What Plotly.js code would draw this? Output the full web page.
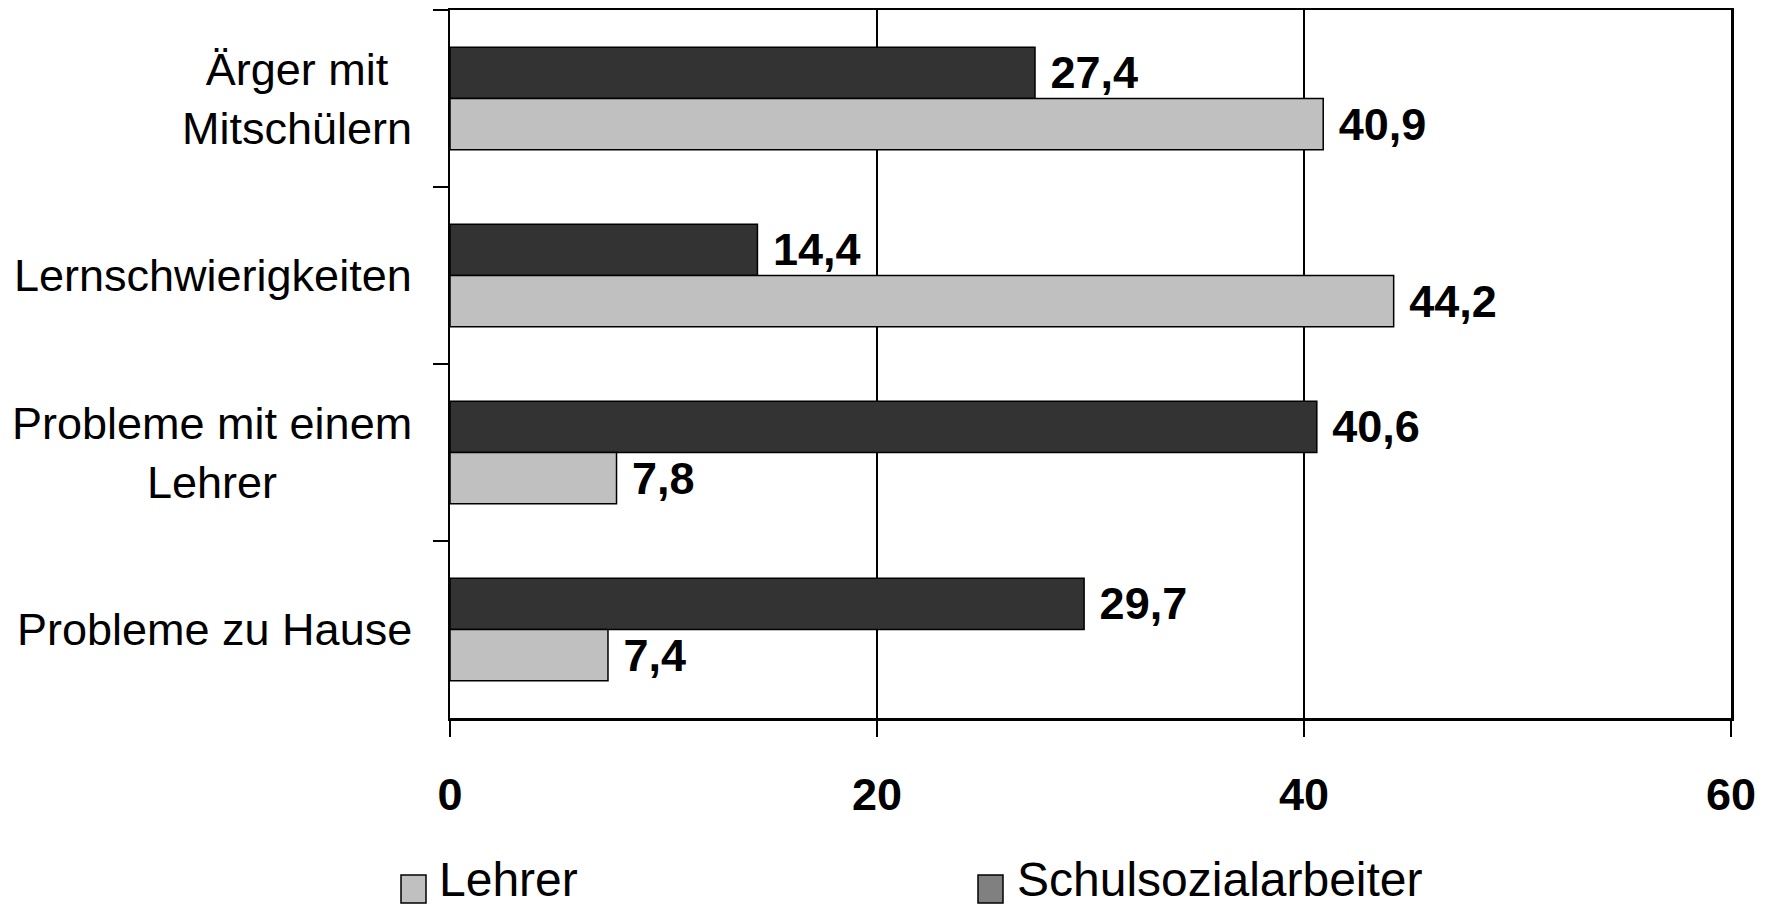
<!DOCTYPE html>
<html>
<head>
<meta charset="utf-8">
<script src="https://cdn.plot.ly/plotly-3.0.1.min.js"></script>
<style>
html, body { margin: 0; padding: 0; background: #ffffff; }
#chart { width: 1773px; height: 908px; }
</style>
</head>
<body>
<div id="chart"></div>
<script>
// ---- data ----
const categories = ['Ärger mit<br>Mitschülern', 'Lernschwierigkeiten', 'Probleme mit einem<br>Lehrer', 'Probleme zu Hause'];
const schulsozialarbeiter = [27.4, 14.4, 40.6, 29.7];
const lehrer = [40.9, 44.2, 7.8, 7.4];
const xTickValues = [0, 20, 40, 60];
const legendNames = ['Lehrer', 'Schulsozialarbeiter'];

// ---- styling ----
const W = 1773, H = 908;
const M = { l: 450, r: 42, t: 10, b: 190 };
const plotW = W - M.l - M.r, plotH = H - M.t - M.b;
const px2x = p => (p - M.l) / plotW;
const px2y = p => (H - M.b - p) / plotH;
const FONT = 'Arial, "Liberation Sans", sans-serif';

const darkColor = '#333333', lightColor = '#C0C0C0', legendDark = '#808080';

const labelFont = { family: FONT, size: 45, color: '#000', weight: 'bold' };

const traces = [
  {
    type: 'bar', orientation: 'h', name: legendNames[1],
    y: categories, x: schulsozialarbeiter,
    marker: { color: darkColor, line: { color: '#000', width: 1.5 } },
    texttemplate: '\u00a0%{x:.1f}', textposition: 'outside',
    textfont: labelFont, constraintext: 'none', cliponaxis: false,
    showlegend: false, hoverinfo: 'skip'
  },
  {
    type: 'bar', orientation: 'h', name: legendNames[0],
    y: categories, x: lehrer,
    marker: { color: lightColor, line: { color: '#000', width: 1.5 } },
    texttemplate: '\u00a0%{x:.1f}', textposition: 'outside',
    textfont: labelFont, constraintext: 'none', cliponaxis: false,
    showlegend: false, hoverinfo: 'skip'
  }
];

const annotations = categories.map(c => ({
  xref: 'paper', yref: 'y', x: px2x(414), y: c, text: c,
  xanchor: 'right', yanchor: 'middle', align: 'center', showarrow: false,
  font: { family: FONT, size: 45, color: '#000' }
}));

// legend (custom, larger swatches as in the reference)
const legendItems = [
  { name: legendNames[0], color: lightColor, sx: 401, tx: 438 },
  { name: legendNames[1], color: legendDark, sx: 978, tx: 1016 }
];
const shapes = [];
legendItems.forEach(it => {
  shapes.push({
    type: 'rect', xref: 'paper', yref: 'paper',
    x0: px2x(it.sx), x1: px2x(it.sx + 25), y0: px2y(903), y1: px2y(875),
    fillcolor: it.color, line: { color: '#000', width: 1.5 }
  });
  annotations.push({
    xref: 'paper', yref: 'paper', x: px2x(it.tx), y: px2y(907),
    text: it.name, xanchor: 'left', yanchor: 'bottom', showarrow: false,
    borderpad: 0,
    font: { family: FONT, size: 48, color: '#000' }
  });
});

const layout = {
  width: W, height: H,
  margin: { l: M.l, r: M.r, t: M.t, b: M.b, pad: 0 },
  paper_bgcolor: '#ffffff', plot_bgcolor: '#ffffff',
  barmode: 'group', bargap: 0.42, bargroupgap: 0,
  separators: ', ',
  showlegend: false,
  font: { family: FONT, color: '#000' },
  xaxis: {
    range: [0, 60], tickvals: xTickValues, ticktext: xTickValues.map(String),
    showgrid: true, gridcolor: '#000', gridwidth: 1.2, zeroline: false,
    showline: true, linecolor: '#000', linewidth: 2.5, mirror: true,
    ticks: 'outside', ticklen: 16, tickwidth: 1.2, tickcolor: '#000',
    ticklabelstandoff: 19,
    tickfont: { family: FONT, size: 45, color: '#000', weight: 'bold' },
    fixedrange: true
  },
  yaxis: {
    type: 'category', categoryorder: 'array', categoryarray: categories,
    autorange: 'reversed', showticklabels: false,
    showgrid: false, zeroline: false,
    showline: true, linecolor: '#000', linewidth: 2.5, mirror: true,
    ticks: 'outside', tickson: 'boundaries', ticklen: 15, tickwidth: 1.2, tickcolor: '#000',
    fixedrange: true
  },
  annotations: annotations,
  shapes: shapes
};

Plotly.newPlot('chart', traces, layout, { displayModeBar: false, staticPlot: true });
</script>
</body>
</html>
